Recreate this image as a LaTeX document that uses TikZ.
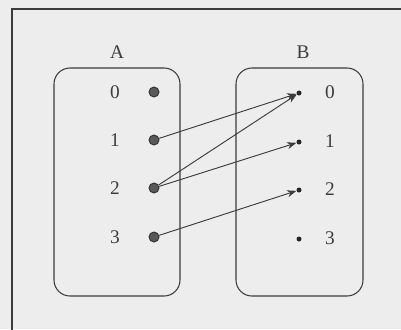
\documentclass[tikz,border=0pt]{standalone}
\usepackage{fontspec}
\setmainfont{Liberation Serif}
\usepackage{tikz}
\usetikzlibrary{arrows.meta}
\definecolor{paper}{HTML}{EDEDED}
\definecolor{ink}{HTML}{3C3C3C}

\begin{document}
\begin{tikzpicture}[
    x=0.03cm, y=-0.03cm,
    every node/.style={font=\fontsize{16.5}{18}\selectfont, text=ink},
    setbox/.style={draw=ink, rounded corners=16*0.03cm, line width=0.9pt},
    srcdot/.style={circle, draw=black!80, fill=gray!70!black, line width=0.8pt, inner sep=0pt, minimum size=10*0.03cm},
    tgtdot/.style={circle, fill=black!85, inner sep=0pt, minimum size=5*0.03cm},
    arr/.style={-{Stealth[length=8pt, width=6pt]}, draw=ink, line width=0.8pt}
]
\useasboundingbox[fill=paper] (0,0) rectangle (401,329);
% frame, only left and top edge inside the picture
\draw[ink, line width=0.9pt] (12,335) |- (410,9);

% the two sets
\draw[setbox] (54,68) rectangle (180,296);
\draw[setbox] (236,68) rectangle (363,296);
\node (lblA) at (117,52) {A};
\node (lblB) at (303,52) {B};

% elements of A
\foreach \i/\y in {0/92,1/140,2/188,3/237} {
    \node (na\i) at (115,\y) {\i};
    \node[srcdot] (a\i) at (154,\y) {};
}
% elements of B
\foreach \i/\y in {0/93,1/142,2/190,3/239} {
    \node (nb\i) at (330,\y-1) {\i};
    \node[tgtdot] (b\i) at (299,\y) {};
}

\draw[arr] (a1) -- (b0);
\draw[arr] (a2) -- (b0);
\draw[arr] (a2) -- (b1);
\draw[arr] (a3) -- (b2);
\end{tikzpicture}
\end{document}
